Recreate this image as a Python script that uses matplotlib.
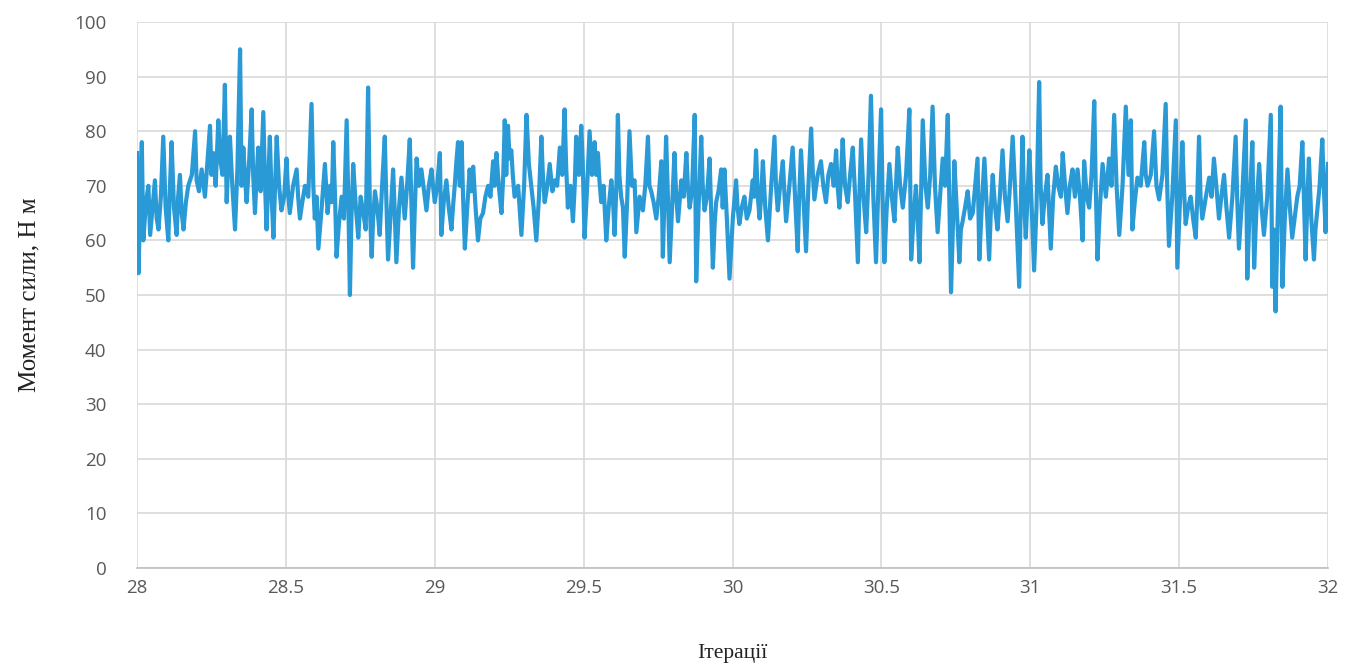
import matplotlib
import matplotlib.pyplot as plt

# Момент сили vs ітерації (10 per row)
iters = [
    28.000, 28.005, 28.010, 28.016, 28.021, 28.030, 28.038, 28.044, 28.052, 28.060,
    28.066, 28.072, 28.080, 28.088, 28.096, 28.105, 28.110, 28.116, 28.124, 28.133,
    28.138, 28.144, 28.150, 28.156, 28.164, 28.172, 28.184, 28.195, 28.200, 28.208,
    28.217, 28.228, 28.236, 28.245, 28.250, 28.256, 28.264, 28.273, 28.279, 28.287,
    28.295, 28.301, 28.306, 28.312, 28.320, 28.329, 28.337, 28.346, 28.351, 28.357,
    28.362, 28.368, 28.376, 28.385, 28.390, 28.396, 28.401, 28.407, 28.415, 28.424,
    28.430, 28.435, 28.440, 28.446, 28.452, 28.458, 28.463, 28.469, 28.477, 28.485,
    28.494, 28.502, 28.507, 28.513, 28.524, 28.536, 28.541, 28.547, 28.555, 28.564,
    28.575, 28.586, 28.592, 28.597, 28.603, 28.609, 28.620, 28.631, 28.640, 28.648,
    28.654, 28.659, 28.665, 28.670, 28.678, 28.687, 28.695, 28.704, 28.710, 28.715,
    28.720, 28.726, 28.735, 28.743, 28.751, 28.760, 28.768, 28.776, 28.782, 28.788,
    28.793, 28.799, 28.807, 28.815, 28.823, 28.832, 28.837, 28.843, 28.851, 28.860,
    28.865, 28.871, 28.880, 28.888, 28.893, 28.899, 28.907, 28.916, 28.921, 28.927,
    28.933, 28.939, 28.947, 28.955, 28.964, 28.972, 28.980, 28.989, 28.994, 29.000,
    29.008, 29.017, 29.022, 29.030, 29.039, 29.047, 29.056, 29.061, 29.067, 29.072,
    29.078, 29.084, 29.090, 29.095, 29.101, 29.109, 29.117, 29.123, 29.129, 29.137,
    29.145, 29.153, 29.162, 29.170, 29.179, 29.187, 29.196, 29.201, 29.207, 29.215,
    29.224, 29.230, 29.235, 29.240, 29.246, 29.251, 29.257, 29.262, 29.268, 29.280,
    29.291, 29.300, 29.308, 29.316, 29.324, 29.332, 29.341, 29.350, 29.358, 29.363,
    29.369, 29.378, 29.386, 29.395, 29.403, 29.411, 29.420, 29.428, 29.436, 29.441,
    29.447, 29.456, 29.464, 29.470, 29.475, 29.484, 29.492, 29.497, 29.503, 29.511,
    29.520, 29.528, 29.537, 29.542, 29.548, 29.553, 29.559, 29.567, 29.576, 29.584,
    29.593, 29.598, 29.604, 29.610, 29.615, 29.620, 29.626, 29.632, 29.638, 29.646,
    29.654, 29.662, 29.671, 29.677, 29.688, 29.699, 29.707, 29.716, 29.721, 29.727,
    29.735, 29.744, 29.752, 29.761, 29.766, 29.771, 29.777, 29.783, 29.789, 29.797,
    29.805, 29.811, 29.817, 29.822, 29.828, 29.836, 29.845, 29.850, 29.856, 29.864,
    29.873, 29.878, 29.886, 29.895, 29.900, 29.906, 29.914, 29.923, 29.928, 29.934,
    29.940, 29.945, 29.953, 29.962, 29.967, 29.973, 29.981, 29.990, 30.001, 30.012,
    30.017, 30.023, 30.031, 30.040, 30.048, 30.057, 30.062, 30.068, 30.073, 30.079,
    30.085, 30.091, 30.096, 30.102, 30.110, 30.119, 30.130, 30.141, 30.146, 30.152,
    30.160, 30.169, 30.175, 30.180, 30.191, 30.202, 30.210, 30.219, 30.224, 30.230,
    30.238, 30.247, 30.255, 30.264, 30.270, 30.275, 30.286, 30.297, 30.305, 30.314,
    30.322, 30.331, 30.340, 30.348, 30.353, 30.359, 30.364, 30.370, 30.378, 30.387,
    30.395, 30.404, 30.412, 30.421, 30.426, 30.432, 30.440, 30.449, 30.457, 30.465,
    30.473, 30.482, 30.490, 30.499, 30.504, 30.510, 30.518, 30.527, 30.535, 30.544,
    30.549, 30.555, 30.563, 30.572, 30.583, 30.594, 30.600, 30.608, 30.616, 30.622,
    30.628, 30.633, 30.639, 30.648, 30.656, 30.664, 30.672, 30.680, 30.689, 30.697,
    30.706, 30.714, 30.723, 30.728, 30.734, 30.740, 30.745, 30.753, 30.762, 30.767,
    30.773, 30.781, 30.790, 30.798, 30.807, 30.815, 30.823, 30.829, 30.837, 30.846,
    30.854, 30.862, 30.868, 30.874, 30.882, 30.890, 30.898, 30.907, 30.915, 30.924,
    30.932, 30.941, 30.952, 30.963, 30.968, 30.974, 30.979, 30.985, 30.991, 30.997,
    31.005, 31.013, 31.021, 31.030, 31.035, 31.041, 31.049, 31.058, 31.063, 31.069,
    31.077, 31.086, 31.094, 31.103, 31.109, 31.117, 31.125, 31.133, 31.142, 31.150,
    31.159, 31.167, 31.176, 31.181, 31.190, 31.198, 31.206, 31.215, 31.220, 31.226,
    31.234, 31.243, 31.254, 31.265, 31.273, 31.282, 31.290, 31.299, 31.310, 31.321,
    31.330, 31.338, 31.343, 31.351, 31.360, 31.371, 31.383, 31.388, 31.394, 31.405,
    31.416, 31.424, 31.433, 31.444, 31.455, 31.460, 31.466, 31.477, 31.489, 31.494,
    31.502, 31.511, 31.516, 31.522, 31.530, 31.539, 31.547, 31.556, 31.561, 31.567,
    31.572, 31.578, 31.590, 31.601, 31.609, 31.617, 31.625, 31.634, 31.642, 31.651,
    31.659, 31.668, 31.679, 31.690, 31.695, 31.701, 31.712, 31.724, 31.729, 31.737,
    31.746, 31.752, 31.760, 31.769, 31.777, 31.785, 31.796, 31.808, 31.813, 31.818,
    31.824, 31.832, 31.841, 31.847, 31.855, 31.864, 31.872, 31.880, 31.888, 31.897,
    31.905, 31.914, 31.919, 31.925, 31.930, 31.936, 31.944, 31.953, 31.958, 31.964,
    31.972, 31.981, 31.986, 31.992, 32.000,
]
torque = [
    76, 54, 66, 78, 60, 67, 70, 61, 66, 71,
    64, 62, 68, 79, 66, 60, 69, 78, 66, 61,
    68, 72, 65, 62, 67, 70, 72, 80, 71, 69,
    73, 68, 74, 81, 72, 76, 70, 82, 75, 72,
    88.5, 67, 74, 79, 70, 62, 73, 95, 70, 77,
    72, 67, 74, 84, 72, 65, 71, 77, 69, 83.5,
    70, 62, 70, 79, 68, 60.5, 69, 79, 70, 65.5,
    68, 75, 69, 65, 70, 73, 68, 64, 67, 70,
    68, 85, 70, 64, 68, 58.5, 66, 74, 65, 70,
    67, 78, 68, 57, 63, 68, 64, 82, 66, 50,
    64, 74, 66, 60.5, 68, 65, 62, 88, 66, 57,
    64, 69, 66, 61, 70, 79, 68, 56.5, 64, 73,
    66, 56, 66, 71.5, 68, 64, 70, 78.5, 68, 55,
    66, 75, 70, 73, 69, 65.5, 70, 73, 70, 67,
    70, 76, 61, 67, 71, 66, 62, 66, 70, 74,
    78, 70, 78, 68, 58.5, 66, 73, 69, 73.5, 66,
    60, 64, 65, 68, 70, 68, 74.5, 70, 76, 70,
    65, 72, 82, 72, 81, 75, 76.5, 72, 68, 70,
    61, 70, 83, 74, 70, 66, 60, 68, 79, 72,
    67, 70, 74, 69, 71, 70, 77, 72, 84, 74,
    66, 70, 63.5, 70, 79, 72, 81, 74, 60.5, 69,
    80, 72, 78, 72, 76, 71, 67, 70, 60, 66,
    71, 68, 61, 70, 83, 72, 68, 66, 57, 67,
    80, 70, 71, 61.5, 68, 65.5, 70, 79, 70, 69,
    67, 64, 68, 74.5, 57, 67, 79, 68, 56, 66,
    76, 68, 63.5, 67, 71, 68, 76, 70, 66, 69,
    83, 52.5, 66, 79, 70, 65.5, 68, 75, 66, 55,
    63, 67, 69, 73, 66, 73, 64, 53, 64, 71,
    66, 63, 66, 68, 64, 65.5, 68, 71, 68, 76.5,
    68, 64, 68, 74.5, 66, 60, 70, 79, 70, 65.5,
    70, 74.5, 68, 63.5, 70, 77, 68, 58, 68, 76.5,
    68, 58, 70, 80.5, 72, 67.5, 72, 74.5, 70, 67,
    72, 74, 70, 76.5, 70, 66, 71, 78.5, 70, 67,
    72, 77, 68, 56, 68, 78.5, 68, 61.5, 72, 86.5,
    68, 56, 70, 84, 68, 56, 66, 74, 68, 63.5,
    70, 77, 70, 66, 72, 84, 56.5, 64, 70, 64,
    56, 68, 82, 70, 66, 72, 84.5, 70, 61.5, 68,
    75, 70, 83, 68, 50.5, 62, 74.5, 66, 56, 62,
    63.5, 66, 69, 64, 65, 70, 75, 56.5, 66, 75,
    66, 56.5, 66, 72, 66, 62, 68, 76.5, 68, 63.5,
    70, 79, 66, 51.5, 66, 79, 68, 60.5, 68, 76.5,
    66, 54.5, 66, 89, 70, 63, 68, 72, 66, 58.5,
    68, 73.5, 70, 68, 76, 70, 65, 70, 73, 68,
    73, 68, 60, 74.5, 68, 66, 72, 85.5, 70, 56.5,
    66, 74, 68, 75, 70, 83, 70, 61, 70, 84.5,
    72, 82, 62, 67, 71.5, 70, 78, 72, 70, 72,
    80, 70, 67.5, 72, 85, 70, 59, 68, 82, 55,
    66, 78, 70, 63, 66, 68, 64, 60.5, 68, 79,
    68, 64, 68, 71.5, 68, 75, 70, 64, 68, 72,
    66, 60.5, 68, 79, 68, 58.5, 68, 82, 53, 66,
    78, 55, 66, 74, 66, 61, 68, 83, 51.5, 62,
    47, 66, 84.5, 51.5, 64, 73, 66, 60.5, 64, 68,
    70, 78, 68, 56.5, 66, 75, 64, 56.5, 62, 65.5,
    70, 78.5, 70, 61.5, 74,
]
x_ticks = [28, 28.5, 29, 29.5, 30, 30.5, 31, 31.5, 32]
x_labels = ["28", "28.5", "29", "29.5", "30", "30.5", "31", "31.5", "32"]
y_ticks = list(range(0, 101, 10))

matplotlib.rcParams.update({"font.family": ["Open Sans", "DejaVu Sans"]})

fig = plt.figure(figsize=(13.49, 6.71), dpi=100)
ax = fig.add_axes([0.1016, 0.1535, 0.8828, 0.8137])

ax.plot(iters, torque, color="#2A9AD6", linewidth=3.0)

ax.set_xlim(28, 32)
ax.set_ylim(0, 100)
ax.set_xticks(x_ticks)
ax.set_xticklabels(x_labels)
ax.set_yticks(y_ticks)
ax.grid(True, color="#D9D9D9", linewidth=1.2)
ax.set_axisbelow(True)
for side in ["top", "right", "left"]:
    ax.spines[side].set_visible(False)
ax.spines["bottom"].set_color("#BFBFBF")
ax.spines["bottom"].set_linewidth(1.2)
ax.tick_params(axis="both", length=0, labelsize=13.5, labelcolor="#595959")
ax.tick_params(axis="y", pad=22)
ax.tick_params(axis="x", pad=8)

ax.set_xlabel("Ітерації", family="Liberation Serif", fontsize=15.5, color="#222222", labelpad=34)
ax.set_ylabel("Момент сили, Н м", family="Liberation Serif", fontsize=18, color="#222222", labelpad=24)

fig.savefig("out.png", dpi=100)
